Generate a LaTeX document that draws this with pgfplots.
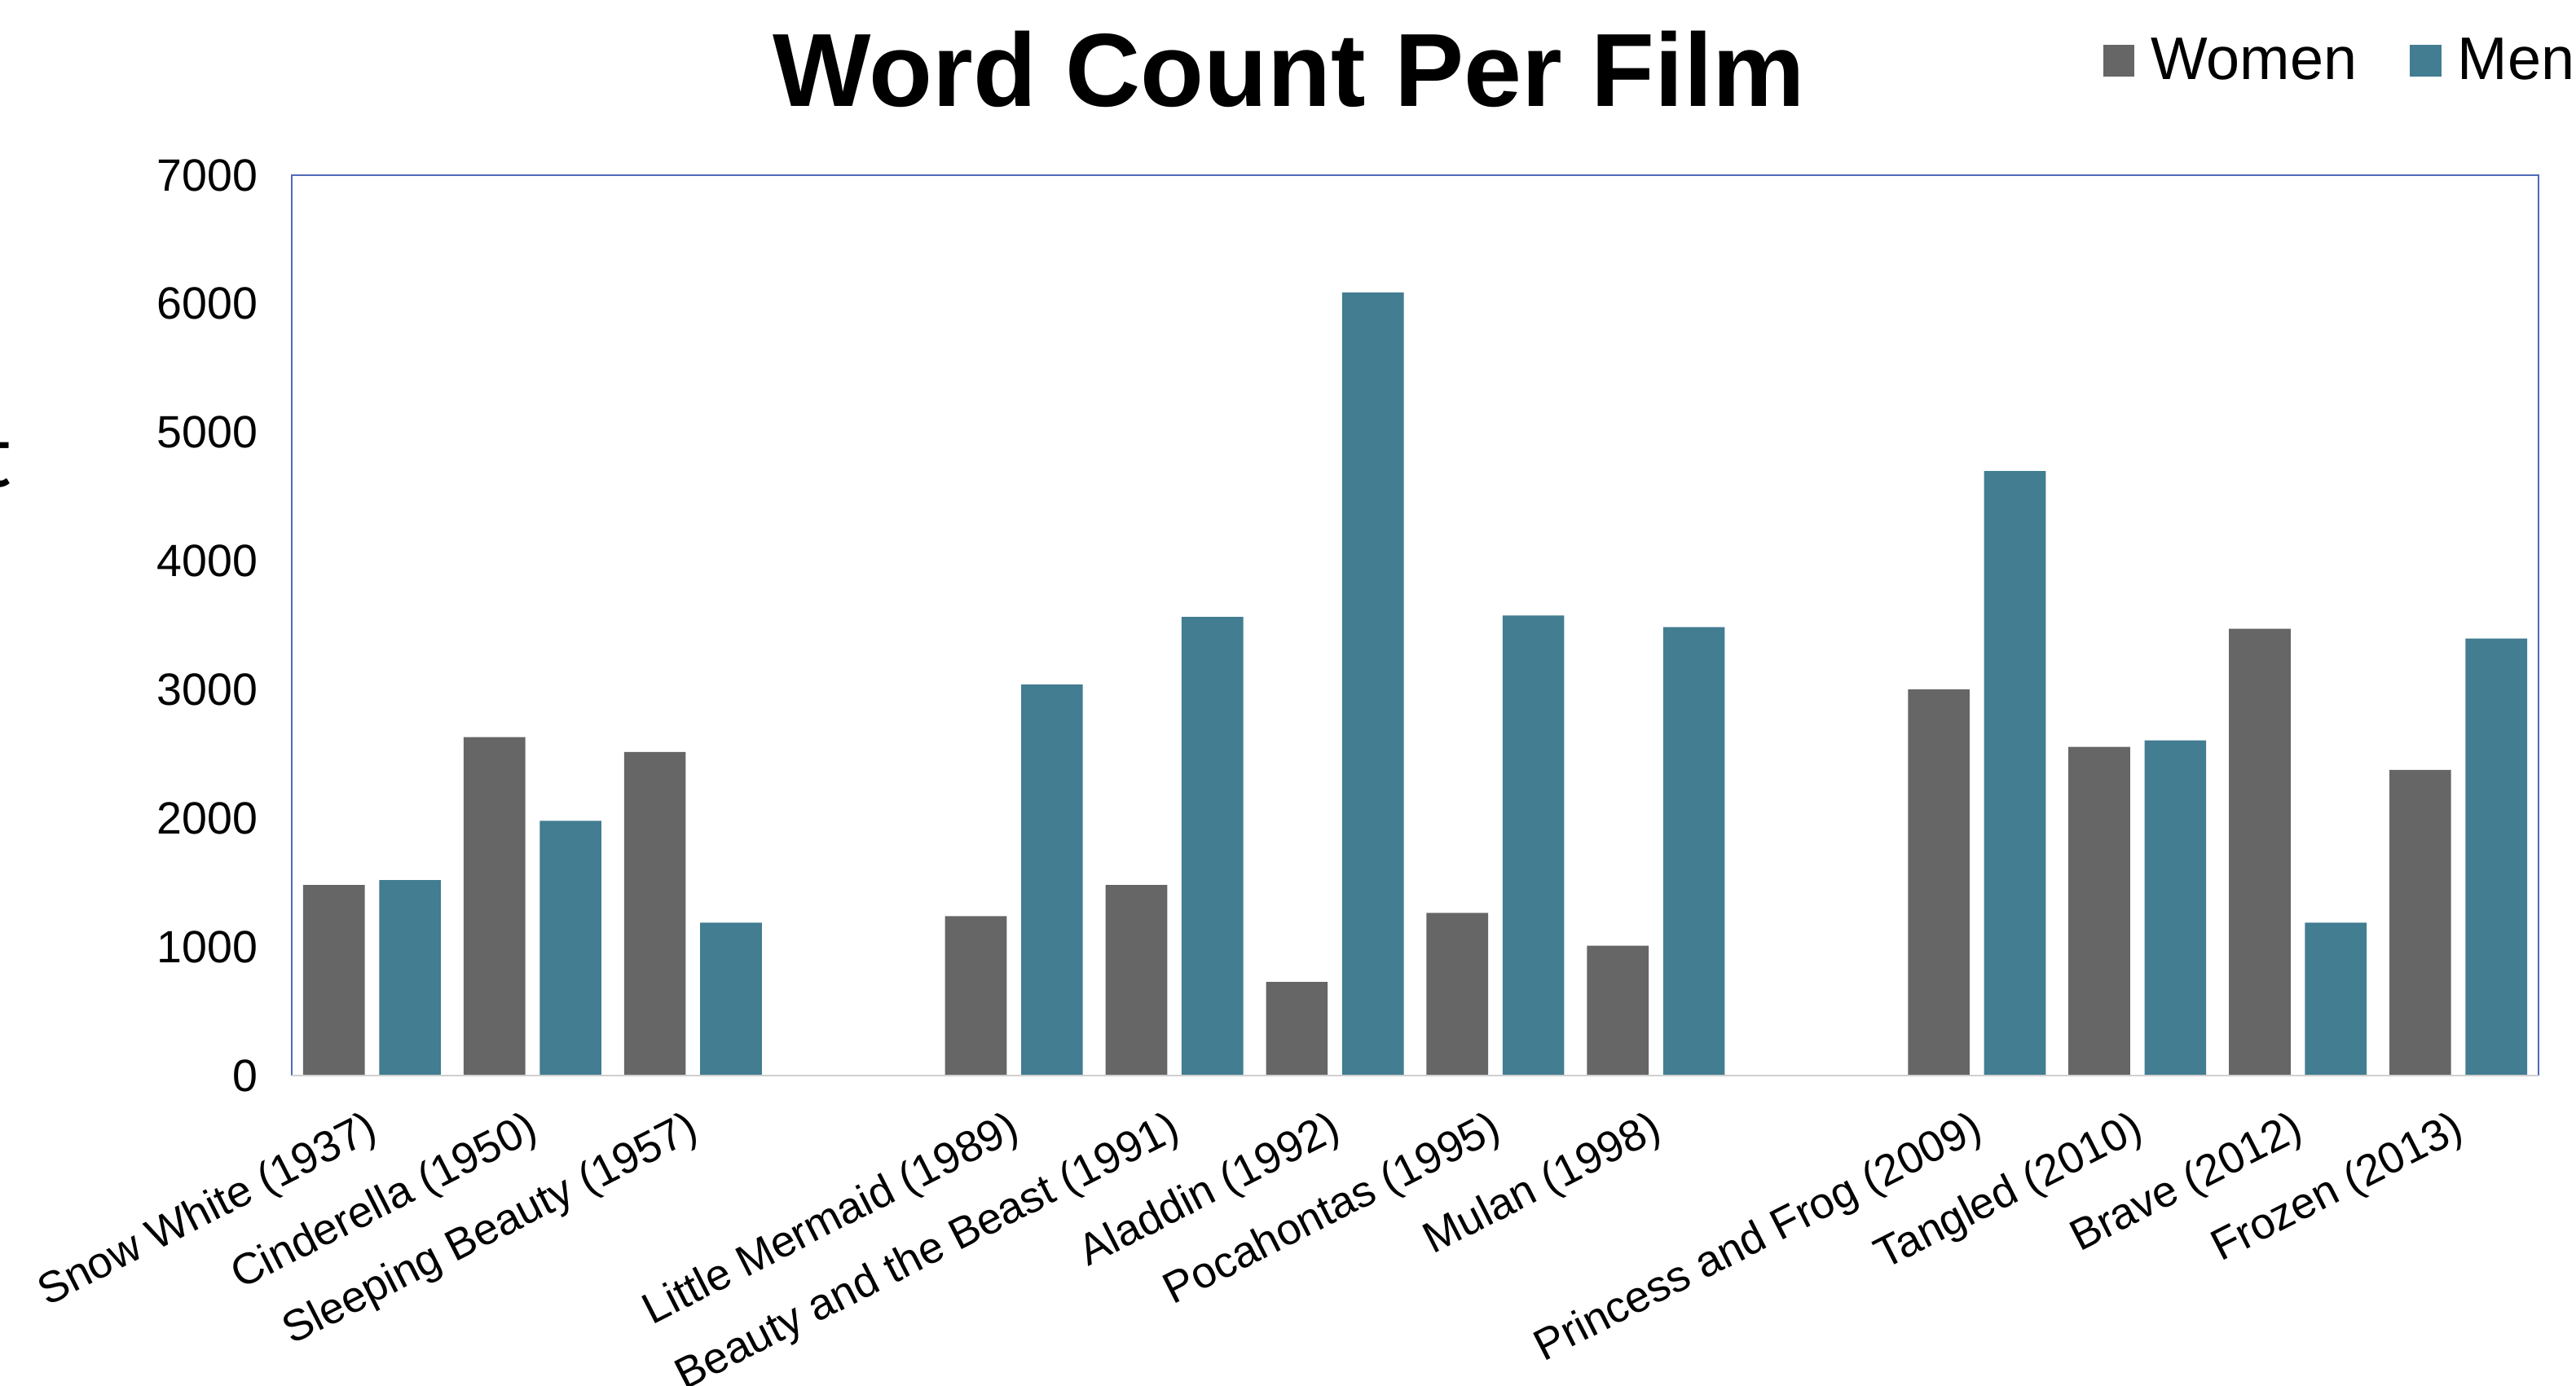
\documentclass[border=0pt]{standalone}
\usepackage{pgfplots}
\pgfplotsset{compat=1.18}
\usepackage{fontspec}
\setmainfont{Liberation Sans}
\newfontfamily\calibri{Carlito}
\definecolor{women}{HTML}{666666}
\definecolor{men}{HTML}{427D91}
\definecolor{framec}{HTML}{4F6BB8}
\definecolor{basec}{HTML}{D0D0D0}
\begin{document}
\begin{tikzpicture}
\begin{axis}[
  at={(3.58cm,3.80cm)}, anchor=south west,
  scale only axis, width=27.57cm, height=11.05cm,
  xmin=-0.5, xmax=13.5, ymin=0, ymax=7000,
  enlargelimits=false,
  axis line style={draw=none},
  ytick={0,1000,...,7000},
  xtick={0,1,2,4,5,6,7,8,10,11,12,13},
  xticklabels={Snow White (1937),Cinderella (1950),Sleeping Beauty (1957),Little Mermaid (1989),Beauty and the Beast (1991),Aladdin (1992),Pocahontas (1995),Mulan (1998),Princess and Frog (2009),Tangled (2010),Brave (2012),Frozen (2013)},
  major tick length=0pt,
  tick style={draw=none},
  /pgf/number format/1000 sep={},
  /pgf/number format/assume math mode=true,
  yticklabel style={font=\fontsize{15.8}{18}\selectfont, inner sep=0pt, xshift=-0.41cm},
  xticklabel style={font=\fontsize{15.3}{18}\selectfont, inner sep=0pt, yshift=-0.40cm, xshift=-0.08cm, rotate=27, anchor=north east},
  legend style={at={(0.806,1.127)}, anchor=west, draw=none, fill=none,
    legend columns=2, font=\fontsize{21}{25}\selectfont,
    inner sep=0pt, nodes={inner sep=0pt},
    /tikz/every odd column/.append style={column sep=0.2cm},
    /tikz/every even column/.append style={column sep=0.65cm}},
  clip=false,
]
\addplot[ybar, fill=women, draw=none, bar width=0.384, bar shift=-0.237, forget plot] coordinates {
(0,1482) (1,2631) (2,2516) (4,1239) (5,1482) (6,728) (7,1265) (8,1009) (10,3002) (11,2555) (12,3474) (13,2376)};
\addplot[ybar, fill=men, draw=none, bar width=0.384, bar shift=0.237, forget plot] coordinates {
(0,1520) (1,1980) (2,1188) (4,3040) (5,3566) (6,6088) (7,3577) (8,3487) (10,4700) (11,2606) (12,1188) (13,3398)};
\addlegendimage{legend image code/.code={\fill[women] (0cm,-0.185cm) rectangle (0.37cm,0.185cm);}}
\addlegendentry{Women}
\addlegendimage{legend image code/.code={\fill[men] (0cm,-0.185cm) rectangle (0.37cm,0.185cm);}}
\addlegendentry{Men}
\draw[framec, line width=0.6pt] (rel axis cs:0,0) -- (rel axis cs:0,1) -- (rel axis cs:1,1) -- (rel axis cs:1,0);
\draw[basec, line width=0.6pt] (rel axis cs:0,0) -- (rel axis cs:1,0);
\end{axis}
\node[anchor=base, inner sep=0pt, font=\bfseries\fontsize{36.3}{43}\selectfont] at (15.82cm,15.69cm) {Word Count Per Film};
\node[anchor=base east, inner sep=0pt, font=\calibri\fontsize{33}{40}\selectfont] at (0.15cm,11.02cm) {Word Count};
\pgfresetboundingbox
\useasboundingbox (0,0) rectangle (31.61cm,17cm);
\end{tikzpicture}
\end{document}
